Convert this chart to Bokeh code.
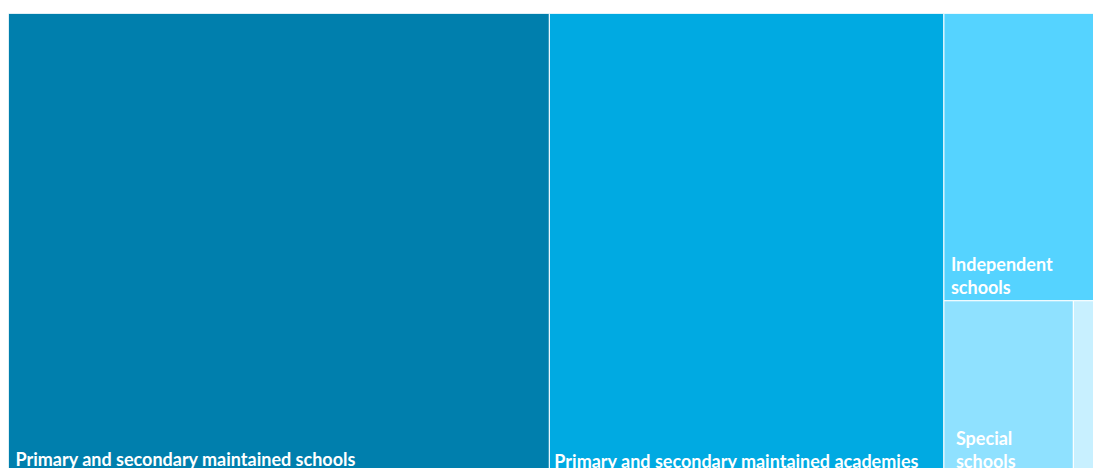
from bokeh.plotting import figure
from bokeh.models import Range1d, ColumnDataSource
from bokeh.embed import file_html
from bokeh.resources import INLINE
from bokeh.core.properties import value

# ---- data ----
categories = ["Primary and secondary maintained schools",
              "Primary and secondary maintained academies",
              "Independent schools",
              "Special schools",
              "Other"]
label_lines = [["Primary and secondary maintained schools"],
               ["Primary  and secondary maintained academies"],
               ["Independent", "schools"],
               ["Special", "schools"],
               []]
values = [49.9, 36.4, 8.6, 4.5, 0.7]
colors = ["#007FAD", "#00AAE2", "#55D3FF", "#8FE1FF", "#C8F0FF"]

# ---- layout (treemap split directions) ----
W, H = 1085, 461
cuts = ["x", "x", "y", "x"]


def layout(vals, x0, y0, x1, y1):
    rects = []
    remaining = sum(vals)
    for i, v in enumerate(vals):
        if i == len(vals) - 1:
            rects.append((x0, y0, x1, y1))
            break
        f = v / remaining
        if cuts[i] == "x":
            xm = x0 + (x1 - x0) * f
            rects.append((x0, y0, xm, y1))
            x0 = xm
        else:
            ym = y1 - (y1 - y0) * f
            rects.append((x0, ym, x1, y1))
            y1 = ym
        remaining -= v
    return rects


rects = layout(values, 0, 0, W, H)

src = ColumnDataSource(dict(
    left=[r[0] for r in rects], bottom=[r[1] for r in rects],
    right=[r[2] for r in rects], top=[r[3] for r in rects],
    color=colors, name=categories, value=values))

p = figure(width=1093, height=468, output_backend="svg", toolbar_location=None,
           x_range=Range1d(0, W), y_range=Range1d(6, H),
           min_border_left=8, min_border_top=13, min_border_right=0, min_border_bottom=0)
p.axis.visible = False
p.grid.visible = False
p.outline_line_color = None
p.background_fill_color = "white"
p.border_fill_color = "white"

p.quad(left="left", right="right", bottom="bottom", top="top", source=src,
       fill_color="color", line_color="white", line_width=1)

# labels: bottom-left of each cell
label_dx = [7, 5, 7, 12, 6]
label_dy = [-16, -14, -14, -14, -14]
lx, ly, lt, xo, yo = [], [], [], [], []
for r, lines, dx, dy in zip(rects, label_lines, label_dx, label_dy):
    n = len(lines)
    for j, line in enumerate(lines):
        lx.append(r[0])
        ly.append(r[1])
        lt.append(line)
        xo.append(dx)
        yo.append(dy - (n - 1 - j) * 23)

lsrc = ColumnDataSource(dict(x=lx, y=ly, text=lt, xo=xo, yo=yo))
p.text(x="x", y="y", text="text", x_offset="xo", y_offset="yo", source=lsrc,
       text_font=value("Lato"), text_font_style="bold", text_font_size="18px",
       text_color="white", text_baseline="alphabetic", text_align="left")

open("out.html", "w").write(file_html(p, INLINE))
